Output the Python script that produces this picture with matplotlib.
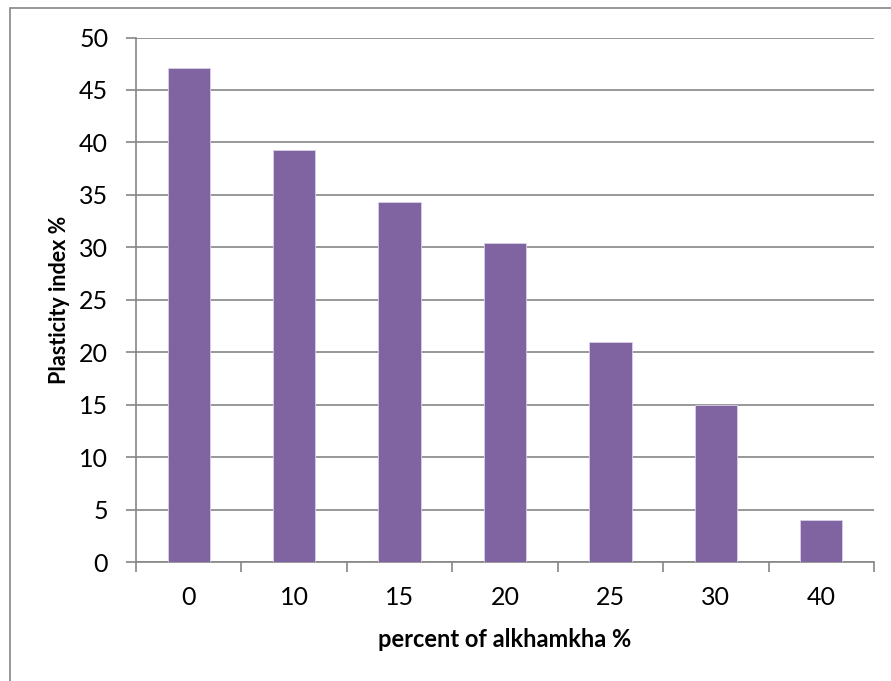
import matplotlib.pyplot as plt
from matplotlib.patches import Rectangle

plt.rcParams['font.family'] = ['Lato', 'DejaVu Sans']

categories = ['0', '10', '15', '20', '25', '30', '40']
plasticity = [47.1, 39.3, 34.3, 30.4, 21.0, 15.0, 4.0]

grid_color = '#868686'

fig = plt.figure(figsize=(8.91, 6.81), dpi=100)
W, H = 891, 681
ax = fig.add_axes([136 / W, 1 - 562 / H, (874 - 136) / W, (562 - 37.5) / H])

x = list(range(len(categories)))
ax.bar(x, plasticity, width=0.4, color='#8064A2', edgecolor='#D9D0E6',
       linewidth=0.6, zorder=3)

ax.set_xlim(-0.5, len(categories) - 0.5)
ax.set_ylim(0, 50)
ax.set_yticks(range(0, 51, 5))
ax.set_xticks(x)
ax.set_xticklabels(categories)
ax.set_xticks([i + 0.5 for i in range(-1, len(categories))], minor=True)

ax.yaxis.grid(True, color=grid_color, linewidth=1.2, zorder=0)
for side in ['top', 'right']:
    ax.spines[side].set_visible(False)
for side in ['left', 'bottom']:
    ax.spines[side].set_color(grid_color)
    ax.spines[side].set_linewidth(1.2)

ax.tick_params(axis='y', length=7, width=1.2, color=grid_color,
               labelsize=18, pad=13)
ax.tick_params(axis='x', which='major', length=0, labelsize=18, pad=17)
ax.tick_params(axis='x', which='minor', length=7, width=1.2, color=grid_color)

ax.set_ylabel('Plasticity index %', fontsize=15.5, fontweight='bold')
ax.set_xlabel('percent of alkhamkha %', fontsize=17, fontweight='bold', labelpad=14)
ax.yaxis.set_label_coords(-0.089, 0.5)

fig.patches.append(Rectangle((10 / W, -0.1), 1.2, 1 - 8 / H + 0.1,
                             transform=fig.transFigure, fill=False,
                             edgecolor=grid_color, linewidth=1.2))

fig.savefig('out.png', dpi=100)
